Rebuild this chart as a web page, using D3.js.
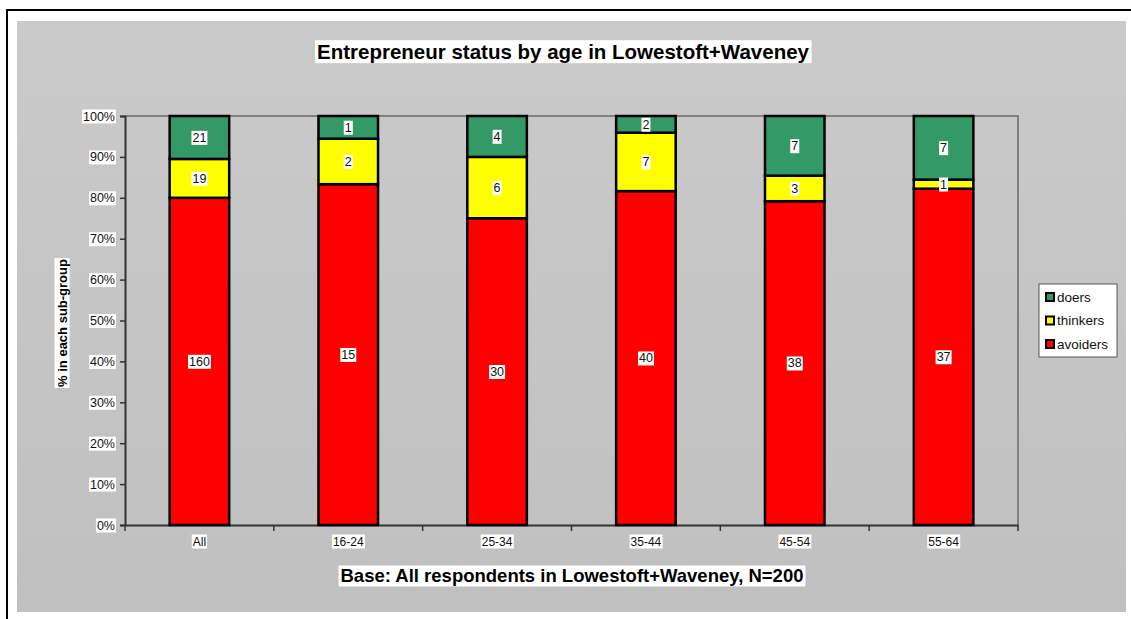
<!DOCTYPE html>
<html>
<head>
<meta charset="utf-8">
<script src="https://cdn.jsdelivr.net/npm/d3@7"></script>
<style>
  body { margin: 0; background: #fff; }
  svg { display: block; font-family: 'Liberation Sans', Arial, sans-serif; }
</style>
</head>
<body>
<div class="container"></div>
<script>
// counts per age group
const categories = ['All', '16-24', '25-34', '35-44', '45-54', '55-64'];
const avoiders = [160, 15, 30, 40, 38, 37];
const thinkers = [19, 2, 6, 7, 3, 1];
const doers = [21, 1, 4, 2, 7, 7];
const yTicks = [0, 0.1, 0.2, 0.3, 0.4, 0.5, 0.6, 0.7, 0.8, 0.9, 1];

const seriesNames = ['avoiders', 'thinkers', 'doers'];
const colors = { avoiders: '#ff0000', thinkers: '#ffff00', doers: '#339966' };

const w = 1131;
const h = 619;
const plot = { left: 125, top: 116, right: 1018, bottom: 525 };

const rows = categories.map((c, i) => ({
  cat: c,
  avoiders: avoiders[i],
  thinkers: thinkers[i],
  doers: doers[i]
}));

const stack = d3.stack().keys(seriesNames).offset(d3.stackOffsetExpand);
const stacked = stack(rows);

const svg = d3
  .select('.container')
  .append('svg')
  .attr('width', w)
  .attr('height', h);

const defs = svg.append('defs');
const grad = defs
  .append('linearGradient')
  .attr('id', 'bg')
  .attr('x1', 0)
  .attr('y1', 0)
  .attr('x2', 0)
  .attr('y2', 1);
grad.append('stop').attr('offset', '0%').attr('stop-color', '#cacaca');
grad.append('stop').attr('offset', '100%').attr('stop-color', '#c0c0c0');

// outer frame (only top/left edge visible)
svg
  .append('rect')
  .attr('x', 7)
  .attr('y', 10)
  .attr('width', 1200)
  .attr('height', 700)
  .attr('fill', '#fff')
  .attr('stroke', '#000')
  .attr('stroke-width', 2);

svg
  .append('rect')
  .attr('x', 17)
  .attr('y', 21)
  .attr('width', 1109)
  .attr('height', 591)
  .attr('fill', 'url(#bg)');

const xScale = d3
  .scaleBand()
  .domain(categories)
  .range([plot.left, plot.right])
  .paddingInner(0.6)
  .paddingOuter(0.3);

const yScale = d3.scaleLinear().domain([0, 1]).range([plot.bottom, plot.top]);

// plot border top/right
svg
  .append('path')
  .attr('d', `M${plot.left},${plot.top}H${plot.right}V${plot.bottom}`)
  .attr('fill', 'none')
  .attr('stroke', '#808080')
  .attr('stroke-width', 2);

// helper: white box behind a text node
function boxText(sel, pad) {
  sel.each(function () {
    const b = this.getBBox();
    d3.select(this.parentNode)
      .insert('rect', () => this)
      .attr('x', b.x - pad)
      .attr('y', b.y)
      .attr('width', b.width + pad * 2)
      .attr('height', b.height)
      .attr('fill', '#fff');
  });
}

// y axis
const yAxis = d3
  .axisLeft(yScale)
  .tickValues(yTicks)
  .tickFormat(d3.format('.0%'))
  .tickSize(5)
  .tickPadding(5);
const gy = svg
  .append('g')
  .attr('transform', `translate(${plot.left},0)`)
  .call(yAxis);
gy.select('.domain').attr('stroke', '#333').attr('stroke-width', 2);
gy.selectAll('.tick line').attr('stroke', '#333').attr('stroke-width', 1.5);
gy.selectAll('.tick text')
  .attr('font-size', 12.5)
  .attr('fill', '#111')
  .attr('font-family', "'Liberation Sans', Arial, sans-serif");
gy.selectAll('.tick').each(function () {
  boxText(d3.select(this).select('text'), 1);
});

// x axis with ticks at category boundaries
const xAxis = d3.axisBottom(xScale).tickSize(0).tickPadding(12);
const gx = svg
  .append('g')
  .attr('transform', `translate(0,${plot.bottom})`)
  .call(xAxis);
gx.select('.domain').attr('stroke', '#333').attr('stroke-width', 2);
gx.selectAll('.tick text')
  .attr('font-size', 12)
  .attr('fill', '#111')
  .attr('font-family', "'Liberation Sans', Arial, sans-serif");
gx.selectAll('.tick').each(function () {
  boxText(d3.select(this).select('text'), 1);
});
const step = xScale.step();
gx.selectAll('.bound')
  .data(d3.range(categories.length + 1))
  .enter()
  .append('line')
  .attr('x1', (d) => plot.left + d * step)
  .attr('x2', (d) => plot.left + d * step)
  .attr('y1', 0)
  .attr('y2', 6)
  .attr('stroke', '#333')
  .attr('stroke-width', 1.5);

// bars
const layers = svg
  .selectAll('.layer')
  .data(stacked)
  .enter()
  .append('g')
  .attr('class', 'layer')
  .attr('fill', (d) => colors[d.key]);

layers
  .selectAll('rect')
  .data((d) => d)
  .enter()
  .append('rect')
  .attr('x', (d) => xScale(d.data.cat))
  .attr('y', (d) => yScale(d[1]))
  .attr('width', xScale.bandwidth())
  .attr('height', (d) => yScale(d[0]) - yScale(d[1]))
  .attr('stroke', '#000')
  .attr('stroke-width', 2.5);

// value labels
const labels = svg.append('g');
stacked.forEach((layer) => {
  layer.forEach((d) => {
    const g = labels.append('g');
    g.append('text')
      .attr('x', xScale(d.data.cat) + xScale.bandwidth() / 2)
      .attr('y', (yScale(d[0]) + yScale(d[1])) / 2)
      .attr('dy', '0.35em')
      .attr('text-anchor', 'middle')
      .attr('font-size', 12.5)
      .attr('fill', '#111')
      .text(d.data[layer.key]);
    boxText(g.select('text'), 1);
  });
});

// title
const tg = svg.append('g');
tg.append('text')
  .attr('x', 563)
  .attr('y', 52)
  .attr('dy', '0.35em')
  .attr('text-anchor', 'middle')
  .attr('font-size', 20.5)
  .attr('font-weight', 'bold')
  .text('Entrepreneur status by age in Lowestoft+Waveney');
boxText(tg.select('text'), 2);

// x title
const xg = svg.append('g');
xg.append('text')
  .attr('x', 572)
  .attr('y', 576)
  .attr('dy', '0.35em')
  .attr('text-anchor', 'middle')
  .attr('font-size', 18.5)
  .attr('font-weight', 'bold')
  .text('Base: All respondents in Lowestoft+Waveney, N=200');
boxText(xg.select('text'), 2);

// y title
const yg = svg.append('g').attr('transform', 'translate(62,323) rotate(-90)');
yg.append('text')
  .attr('x', 0)
  .attr('y', 0)
  .attr('dy', '0.35em')
  .attr('text-anchor', 'middle')
  .attr('font-size', 13)
  .attr('font-weight', 'bold')
  .text('% in each sub-group');
boxText(yg.select('text'), 1);

// legend
const legend = svg.append('g').attr('transform', 'translate(1039,284)');
legend
  .append('rect')
  .attr('width', 78)
  .attr('height', 73)
  .attr('fill', '#fff')
  .attr('stroke', '#555')
  .attr('stroke-width', 1);
const legendOrder = ['doers', 'thinkers', 'avoiders'];
const li = legend
  .selectAll('.li')
  .data(legendOrder)
  .enter()
  .append('g')
  .attr('transform', (d, i) => `translate(7,${13 + i * 23.5})`);
li.append('rect')
  .attr('x', 0)
  .attr('y', -4)
  .attr('width', 8)
  .attr('height', 8)
  .attr('fill', (d) => colors[d])
  .attr('stroke', '#000')
  .attr('stroke-width', 2);
li.append('text')
  .attr('x', 11)
  .attr('y', 0)
  .attr('dy', '0.35em')
  .attr('font-size', 13.5)
  .attr('fill', '#111')
  .text((d) => d);
</script>
</body>
</html>
